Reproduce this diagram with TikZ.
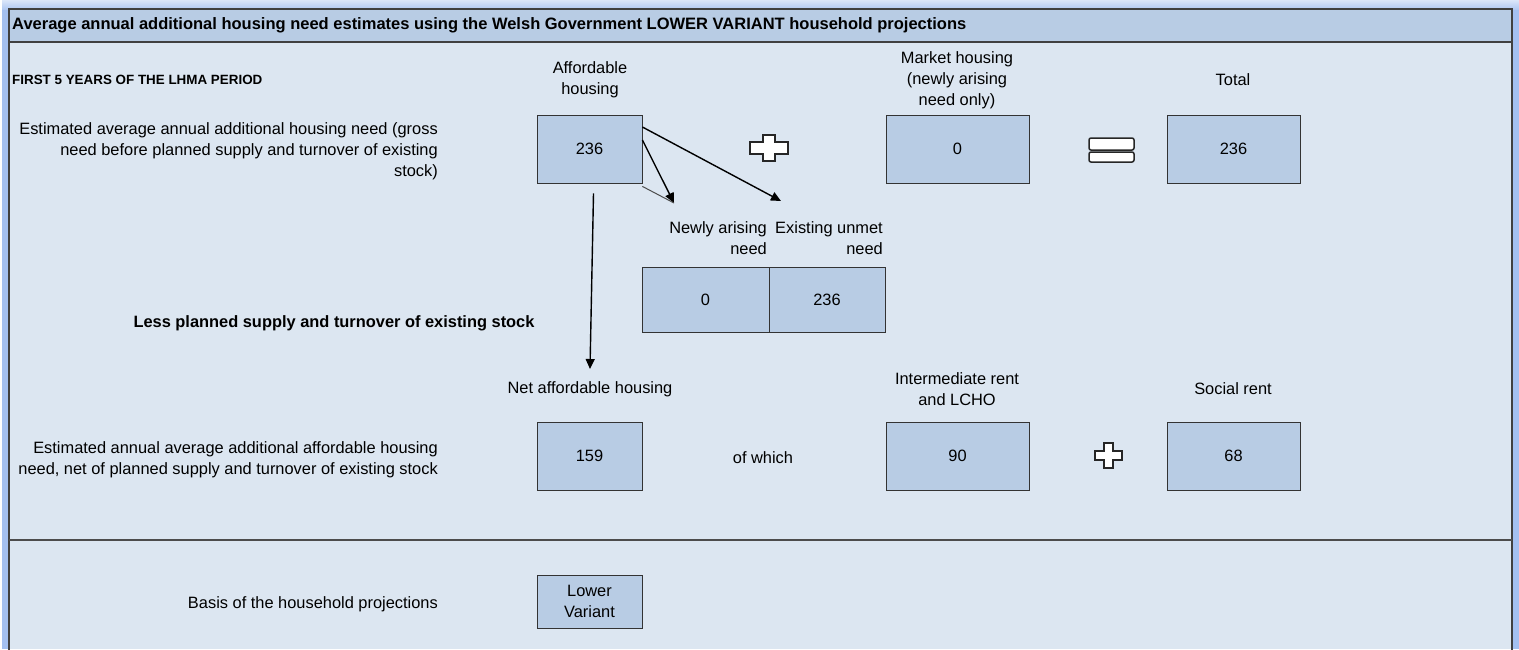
\documentclass[tikz,border=0pt]{standalone}
\usepackage{fontspec}
\setmainfont{Liberation Sans}
\usetikzlibrary{arrows.meta}
\definecolor{panel}{HTML}{DCE6F1}
\definecolor{cellblue}{HTML}{B8CCE4}
\definecolor{rim}{HTML}{A4C0F0}

\begin{document}
\begin{tikzpicture}[x=1pt,y=-1pt]
    \tikzstyle{every node}=[font=\fontsize{16.4}{21}\selectfont, inner sep=0pt, align=center]
    \tikzstyle{valbox}=[draw=black!80, fill=cellblue, line width=0.8pt, minimum width=105pt, minimum height=68pt]
    \tikzstyle{widebox}=[valbox, minimum width=143pt]
    \tikzstyle{note}=[anchor=east, align=right]
    \tikzstyle{arr}=[line width=1.4pt, -{Triangle[length=10pt,width=9pt]}]
    \tikzstyle{sign}=[draw=black!85, fill=white, line width=1.5pt]
    \useasboundingbox (0,0) rectangle (1519,649);
    % frame and panel
    \fill[white] (0,0) rectangle (1519,649);
    \shade[top color=rim!40, bottom color=rim] (2,0) rectangle (1519,12);
    \fill[rim] (2,10) rectangle (1519,649);
    \fill[panel] (9,9) rectangle (1512,649);
    \fill[cellblue] (9,9) rectangle (1512,42);
    \draw[black!75, line width=1.3pt] (9,652) -- (9,9) -- (1512,9) -- (1512,652);
    \draw[black!75, line width=1.5pt] (9,42) -- (1512,42);
    \draw[black!70, line width=1.5pt] (9,540) -- (1512,540);
    \node[anchor=west, font=\bfseries\fontsize{16.5}{18}\selectfont] (title) at (12,25) {Average annual additional housing need estimates using the Welsh Government LOWER VARIANT household projections};
    \node[anchor=west, font=\bfseries\fontsize{13.4}{15}\selectfont] (period) at (12,80) {FIRST 5 YEARS OF THE LHMA PERIOD};
    % gross need row
    \node[note] (grosstxt) at (438,151) {Estimated average annual additional housing need (gross\\need before planned supply and turnover of existing\\stock)};
    \node (afflbl) at (590,80) {Affordable\\housing};
    \node (mktlbl) at (957,80) {Market housing\\(newly arising\\need only)};
    \node (totlbl) at (1233,80) {Total};
    \node[valbox] (aff) at (589.5,149) {236};
    \node[widebox] (mkt) at (957.5,149) {0};
    \node[valbox, minimum width=133pt] (tot) at (1233.5,149) {236};
    \draw[sign] (750,142)--(763,142)--(763,135)--(775,135)--(775,142)--(788,142)--(788,154)--(775,154)--(775,161)--(763,161)--(763,154)--(750,154)--cycle;
    \draw[sign, rounded corners=2pt] (1089,138) rectangle (1134,150);
    \draw[sign, rounded corners=2pt] (1089,152) rectangle (1134,162);
    % split of affordable need
    \node[note] (newlylbl) at (767,238) {Newly arising\\need};
    \node[note] (existlbl) at (883,238) {Existing unmet\\need};
    \node[valbox, minimum width=127pt, minimum height=65pt] (newly) at (705.5,299.5) {0};
    \node[valbox, minimum width=116pt, minimum height=65pt] (exist) at (827,299.5) {236};
    \coordinate (tipA) at (781,201);
    \coordinate (tipB) at (674,203);
    \coordinate (tipC) at (590,369);
    \draw[arr] ([yshift=22pt]aff.east) -- (tipA);
    \draw[arr] ([yshift=9pt]aff.east) -- (tipB);
    \draw[black!70, line width=1pt] ([yshift=-3pt]aff.south east) -- (tipB);
    \draw[arr] ([xshift=4pt, yshift=-10pt]aff.south) -- (tipC);
    \node[font=\bfseries\fontsize{16.4}{18}\selectfont] (lesslbl) at (334,323) {Less planned supply and turnover of existing stock};
    % net need row
    \node (netlbl) at (590,389) {Net affordable housing};
    \node (interlbl) at (957,389) {Intermediate rent\\and LCHO};
    \node (sociallbl) at (1233,389) {Social rent};
    \node[note] (nettxt) at (438,459.5) {Estimated annual average additional affordable housing\\need, net of planned supply and turnover of existing stock};
    \node[valbox] (net) at (589.5,456) {159};
    \node (ofwhich) at (763,458) {of which};
    \node[widebox] (inter) at (957.5,456) {90};
    \node[valbox, minimum width=133pt] (social) at (1233.5,456) {68};
    \draw[sign] (1095,451)--(1104,451)--(1104,443)--(1113,443)--(1113,451)--(1122,451)--(1122,460)--(1113,460)--(1113,468)--(1104,468)--(1104,460)--(1095,460)--cycle;
    % basis
    \node[note] (basistxt) at (438,604) {Basis of the household projections};
    \node[valbox, minimum height=53pt] (basis) at (589.5,601.5) {Lower\\Variant};
\end{tikzpicture}
\end{document}
